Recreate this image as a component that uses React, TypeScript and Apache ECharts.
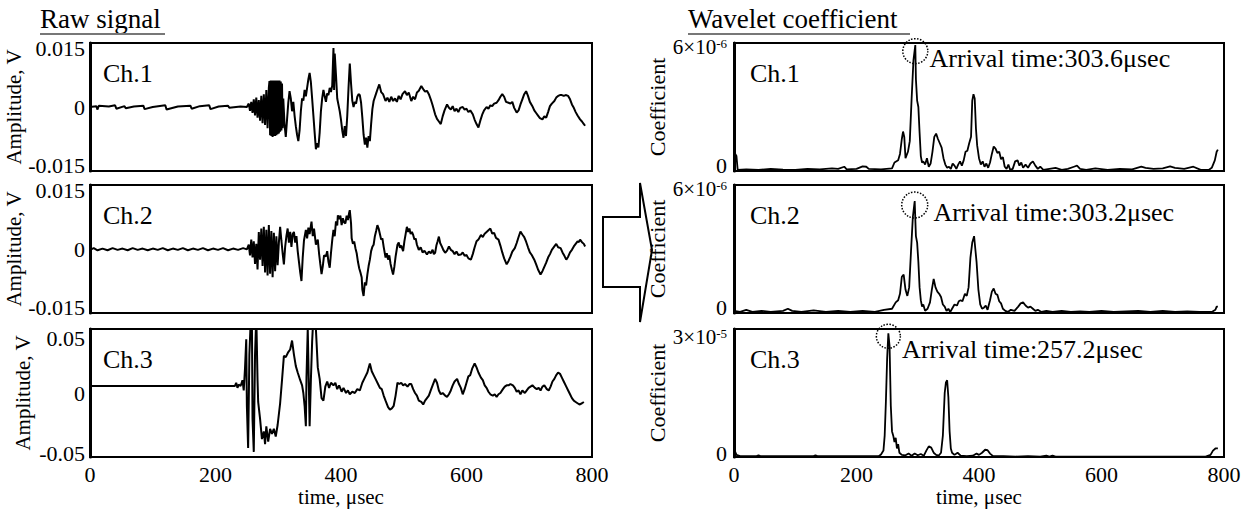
import React, { useEffect, useRef } from 'react';
import * as echarts from 'echarts';

const FONT = "'Liberation Serif', 'Times New Roman', Times, serif";

// ---------- data ----------
const channels = ['Ch.1', 'Ch.2', 'Ch.3'];
const timeMax = 800;
const timeInterval = 200;
const rawRange = [0.015, 0.015, 0.05];
const coefMax = [6, 6, 3];
const coefExp = ['-6', '-6', '-5'];
const arrivalTimes = [303.6, 303.2, 257.2];

// Raw signal, Ch.1 [time µs, amplitude V]
const raw1: [number, number][] = [
  [0,0],[10,0.0002],[12,-0.0006],[14,0.0003],[30,0.0001],[40,0.0004],[42,-0.0004],[55,0.0002],[57,-0.0003],[70,0.0001],
  [85,0.0003],[87,-0.0005],[100,0],[120,0.0004],[122,-0.0006],[140,0.0001],[160,0.0003],[162,-0.0004],[175,0.0002],[190,0.0004],
  [192,-0.0005],[205,0.0001],[220,0.0003],[222,-0.0002],[240,0.0001],[250,0],
  [253,0.0008],[255,-0.0009],[257,0.0012],[259,-0.0014],[261,0.0018],[263,-0.002],[265,0.0022],[267,-0.0025],[269,0.0016],[271,-0.0032],
  [273,0.0026],[275,-0.0038],[277,0.003],[279,-0.0042],[281,0.004],[283,-0.005],[285,0.0045],
  [286,0.0061],[287,-0.0066],[288,0.0062],[289,-0.0068],[290,0.0062],[291,-0.007],[292,0.0062],[293,-0.0068],[294,0.0062],[295,-0.0068],
  [296,0.0062],[297,-0.0066],[298,0.0062],[299,-0.0064],[300,0.0062],[301,-0.0062],[302,0.0062],[303,-0.0058],[304,0.006],[305,-0.0055],
  [306,0.0055],[307,-0.005],[308,0.002],
  [310,-0.004],[312,-0.007],[314,-0.003],[316,0.001],[318,0.0037],[320,0.002],[322,-0.001],[324,0.0012],[326,-0.002],[328,-0.0045],
  [330,-0.0065],[332,-0.008],[334,-0.0055],[336,-0.001],[338,0.002],[340,0.0015],[342,0.004],[344,0.0025],[346,0.0045],[348,0.0065],
  [350,0.008],[352,0.0058],[354,0.002],[356,-0.002],[358,-0.006],[360,-0.0099],[362,-0.0085],[364,-0.0095],[366,-0.006],[368,-0.001],
  [370,0.002],[372,0.004],[374,0.0025],[376,0.0012],[378,0.0032],[380,0.0028],[382,0.0045],[384,0.0035],[386,0.005],[388,0.0138],
  [389,0.004],[390,0.0125],[392,0.0075],[394,0.002],[396,0.0005],[398,-0.001],[400,-0.003],[402,-0.0055],[404,-0.0072],[406,-0.0045],
  [408,-0.0068],[410,-0.002],[412,0.0045],[414,0.0102],[416,0.0055],[418,0.0015],[420,0],[422,0.0012],[424,0.0008],[426,0.0024],
  [428,0.003],[430,0.0028],[432,0.001],[434,-0.0025],[436,-0.0065],[438,-0.0088],[440,-0.0072],[442,-0.0095],[444,-0.0068],[446,-0.008],
  [448,-0.004],[450,-0.0005],
  [452,0.0014],[456,0.0032],[459,0.0045],[461,0.0053],[464,0.0035],[467,0.003],[471,0.0014],[474,0.0022],[477,0.0012],[480,0.0024],
  [483,0.0014],[486,0.002],[489,0.0012],[492,0.0026],[495,0.0018],[498,0.003],[502,0.0037],[505,0.0028],[508,0.0034],[512,0.0014],
  [515,0.0024],[518,0.0018],[521,0.0034],[524,0.0038],[528,0.0049],[531,0.0042],[534,0.0036],[537,0.0038],[540,0.003],[543,0.0018],
  [546,0.0004],[550,-0.0017],[553,-0.0028],[556,-0.0034],[559,-0.004],[562,-0.0022],[565,-0.0008],[569,0.0006],[572,-0.0002],[575,-0.0006],
  [578,0.0002],[581,-0.001],[584,-0.0004],[587,-0.0012],[590,-0.0002],[594,0],[597,-0.0006],[600,-0.0004],[603,-0.0012],[606,-0.0008],
  [610,-0.0017],[613,-0.003],[616,-0.004],[619,-0.0048],[622,-0.0032],[625,-0.0018],[628,-0.0008],[632,0],[635,-0.0004],[638,0.0004],
  [641,0.0002],[644,0.0008],[648,0.001],[651,0.0016],[654,0.0024],[657,0.003],[660,0.0024],[663,0.0012],[667,0.001],[670,0.0008],
  [673,0.0012],[676,-0.0002],[680,-0.0013],[683,-0.0008],[686,0.0006],[689,0.0018],[692,0.003],[695,0.0037],[698,0.0026],[701,0.0012],
  [705,0.0002],[708,-0.0008],[711,-0.0014],[714,-0.002],[717,-0.0026],[721,-0.0029],[724,-0.0022],[727,-0.0025],[730,-0.0012],[733,0.0002],
  [736,0.0008],[740,0.0014],[743,0.0022],[746,0.0026],[749,0.0028],[752,0.0028],[755,0.0026],[758,0.0028],[762,0.0026],[765,0.0018],
  [768,0.0006],[771,-0.0002],[774,-0.0012],[777,-0.002],[781,-0.0029],[784,-0.0034],[787,-0.004],[789,-0.0044]
];

// Raw signal, Ch.2
const raw2: [number, number][] = [
  [0,-0.0002],[6,0.0002],[12,-0.0003],[20,0.0001],[28,-0.0003],[36,0.0002],[44,-0.0002],[52,0.0001],[60,-0.0003],[68,0.0002],
  [76,-0.0002],[84,0.0001],[92,-0.0003],[100,0.0001],[108,-0.0002],[116,0.0002],[124,-0.0003],[132,0.0001],[140,-0.0002],[148,0.0002],
  [156,-0.0003],[164,0.0001],[172,-0.0002],[180,0.0002],[188,-0.0003],[196,0.0001],[204,-0.0002],[212,0.0002],[220,-0.0003],[228,0.0001],
  [236,-0.0002],[244,0.0002],[250,-0.0001],
  [253,0.001],[255,-0.0015],[257,0.0022],[259,-0.002],[261,0.0018],[263,-0.0035],[265,0.0012],[267,-0.0048],[269,0.004],[271,-0.0025],
  [273,0.0048],[275,-0.004],[277,0.0052],[279,-0.0055],[281,0.0045],[283,-0.0062],[285,0.0056],[287,-0.0058],[289,0.0042],[291,-0.0066],
  [293,0.0038],[295,-0.0052],[297,0.003],[299,-0.0038],
  [301,0.0015],[303,0.0052],[305,0.002],[307,-0.001],[309,-0.0036],[311,0.0005],[313,0.003],[315,0.0048],[317,0.0015],[319,0.004],
  [321,0.0005],[323,0.0035],[325,0.004],[327,0.0015],[329,0.003],[331,-0.0005],[333,-0.003],[335,-0.0055],[337,-0.0075],[339,-0.002],
  [341,0.002],[344,0.0045],[346,0.0025],[348,0.005],[350,0.0035],[353,0.0064],[355,0.003],[357,0.0048],[360,0.001],[363,0.0022],
  [365,-0.001],[367,-0.0035],[369,-0.0059],[371,-0.004],[373,-0.0015],[376,-0.0017],[378,-0.0005],[380,-0.003],[382,-0.0044],[384,-0.001],
  [386,0.002],[388,0.0045],[390,0.003],[392,0.0065],[394,0.0055],[395,0.0079],[397,0.007],[399,0.0078],[401,0.0056],[403,0.0072],
  [405,0.0062],[407,0.006],[409,0.0078],[411,0.0068],[413,0.0085],[414,0.0091],[416,0.006],[417,0.0025],[419,0.0012],[421,0.0018],
  [423,0.0002],[425,-0.001],[427,-0.003],[429,-0.0045],[431,-0.0055],[433,-0.0067],[434,-0.0095],[436,-0.011],[438,-0.0078],[440,-0.0085],
  [442,-0.006],[444,-0.004],[446,-0.0025],[448,-0.0005],[450,0.0005],[452,0.001],[454,0.003],[456,0.0042],[458,0.0056],[460,0.0048],
  [462,0.0035],[464,0.0022],[466,0.0025],[468,0.0005],[471,-0.002],[473,-0.001],[475,-0.0025],[477,-0.0015],[479,-0.0035],[481,-0.0048],
  [483,-0.006],[485,-0.0042],[487,-0.0018],[490,0.001],[492,0.0015],[494,0.0003],[496,0.0008],[499,-0.0005],[501,0.0018],[503,0.0035],
  [505,0.0052],[507,0.004],[509,0.0048],[511,0.0035],[513,0.004],[515,0.0033],[517,0.0022],[519,0.0025],[521,0.001],[524,-0.0002],
  [527,0.0004],[530,-0.0008],[533,-0.0004],[537,-0.0013],[540,-0.0006],[543,-0.001],[546,-0.0002],[548,-0.0012],[550,-0.0009],[552,0.0008],
  [554,0.0018],[556,0.0029],[558,0.0014],[561,0.0005],[563,-0.0002],[566,-0.0009],[569,-0.0004],[572,0.0006],[575,-0.0002],[578,-0.0005],
  [581,-0.0012],[584,-0.0006],[587,-0.0014],[591,-0.0013],[594,-0.0008],[597,-0.0016],[600,-0.0014],[603,-0.0022],[607,-0.0025],[610,-0.0012],
  [613,0.0004],[616,0.0018],[619,0.0022],[623,0.0033],[626,0.0028],[629,0.0036],[632,0.004],[635,0.0044],[638,0.0048],[641,0.0036],
  [644,0.0038],[647,0.0026],[651,0.0022],[654,0.0008],[657,-0.0008],[660,-0.0022],[664,-0.0036],[667,-0.0028],[670,-0.0018],[673,-0.0006],
  [677,0.0002],[680,0.0014],[683,0.0028],[686,0.0041],[689,0.0034],[692,0.0028],[695,0.0017],[698,0.0004],[701,-0.0008],[704,-0.0014],
  [708,-0.0025],[711,-0.0036],[714,-0.0048],[718,-0.006],[721,-0.0052],[724,-0.0042],[727,-0.0032],[730,-0.002],[733,-0.0012],[736,-0.0002],
  [740,0.0006],[743,0.0012],[746,0.0004],[750,0.0002],[753,-0.0008],[756,-0.0016],[759,-0.0025],[762,-0.0018],[765,-0.0008],[768,-0.0002],
  [771,0.0006],[774,0.0012],[777,0.0018],[779,0.0016],[781,0.0022],[784,0.0016],[787,0.0012],[789,0.0006]
];

// Raw signal, Ch.3
const raw3: [number, number][] = [
  [0,0.0055],[100,0.0055],[200,0.0055],[231,0.0055],[233,0.008],[235,0.004],[237,0.0065],[240,0.0055],
  [243,0.01],[245,0.002],[247,0.019],[249,0.042],[250,-0.01],[252,-0.043],[254,0.03],[256,0.055],[258,0.058],[259,-0.02],
  [261,-0.046],[263,0.03],[265,0.06],[267,0.01],[268,-0.007],[271,-0.02],[274,-0.036],[277,-0.03],[279,-0.04],[281,-0.026],
  [284,-0.038],[287,-0.028],[290,-0.032],[293,-0.028],[296,-0.034],[299,-0.025],[303,-0.008],[306,0.01],[309,0.029],[312,0.028],
  [316,0.032],[319,0.034],[322,0.041],[325,0.03],[328,0.021],[331,0.016],[335,0.01],[338,0.006],[340,0],[342,-0.01],
  [344,-0.026],[345,0.012],[347,0.05],[349,0],[350,-0.026],[352,0.01],[354,0.04],[356,0.06],[359,0.06],[361,0.04],
  [363,0.02],[366,0.011],[369,-0.004],[372,-0.006],[375,0.005],[378,0.009],[381,0.004],[384,0.008],[388,0.006],[391,0.008],
  [394,0.003],[397,0.006],[401,0.001],[404,0.004],[408,0],[411,0.002],[414,-0.001],[418,0.001],[422,0],[426,0.003],
  [430,0.002],[434,0.008],[438,0.012],[442,0.016],[446,0.023],[449,0.017],[452,0.014],[455,0.011],[459,0.007],[462,0.004],
  [465,0.003],[468,-0.002],[471,-0.006],[475,-0.011],[478,-0.013],[481,-0.012],[484,-0.01],[487,-0.002],[490,0.008],[493,0.007],
  [496,0.008],[499,0.006],[502,0.007],[506,0.005],[509,0.007],[512,0.007],[515,0.003],[518,0],[521,-0.002],[524,-0.006],
  [528,-0.007],[531,-0.009],[534,-0.006],[537,-0.004],[540,-0.002],[543,0.002],[546,0.006],[550,0.011],[553,0.008],[556,0.002],
  [559,-0.001],[562,0],[566,-0.002],[569,-0.003],[572,-0.001],[575,0.002],[578,0.006],[581,0.009],[585,0.011],[588,0.007],
  [591,0.004],[594,-0.001],[597,0.003],[600,0.008],[603,0.013],[606,0.014],[609,0.019],[613,0.023],[616,0.02],[619,0.016],
  [623,0.012],[626,0.01],[629,0.006],[632,0.004],[635,0.001],[638,-0.001],[642,-0.002],[645,-0.001],[648,-0.003],[651,-0.001],
  [654,0],[658,0.003],[661,0.005],[664,0.006],[667,0.006],[670,0.007],[674,0.006],[677,0.004],[680,0.001],[683,0.002],
  [686,-0.001],[689,0.002],[693,0],[696,0.002],[699,0.004],[702,0.005],[705,0.006],[709,0.004],[712,0.003],[715,0.004],
  [718,0.002],[721,0.005],[724,0.006],[728,0.003],[731,0.002],[734,0.005],[737,0.009],[740,0.011],[743,0.014],[746,0.016],
  [749,0.015],[752,0.012],[755,0.009],[759,0.005],[762,0.002],[765,-0.001],[768,-0.004],[771,-0.006],[774,-0.007],[777,-0.008],
  [780,-0.009],[784,-0.008],[787,-0.007]
];

// Wavelet coefficient, Ch.1 (×10^-6)
const coef1: [number, number][] = [
  [0,0.3],[2,0.8],[4,0.7],[6,0.05],[20,0.08],[40,0.05],[60,0.1],[80,0.06],[100,0.05],[120,0.1],[140,0.08],[160,0.12],[170,0.1],
  [180,0.2],[184,0.08],[200,0.1],[210,0.22],[216,0.2],[220,0.1],[240,0.08],[258,0.12],[262,0.4],[268,0.5],[271,0.8],[274,1.5],
  [276,1.85],[278,1.6],[280,0.6],[282,0.75],[284,0.9],[287,1.4],[290,3.4],[293,5.2],[296,5.9],[297,4.3],[299,3.3],[301,3.0],
  [303,1.8],[305,0.7],[307,0.4],[309,0.45],[312,0.3],[315,0.6],[318,0.2],[321,0.35],[324,0.9],[327,1.6],[330,1.75],[333,1.5],
  [336,1.3],[339,1.1],[342,0.6],[345,0.3],[348,0.15],[351,0.2],[354,0.1],[357,0.35],[360,0.25],[363,0.1],[366,0.3],[369,0.45],
  [372,0.25],[375,0.5],[378,0.9],[381,0.95],[384,1.3],[387,1.6],[389,3.3],[391,3.6],[393,3.4],[395,2.0],[397,1.2],[400,0.6],
  [403,0.3],[406,0.45],[409,0.2],[412,0.35],[415,0.15],[418,0.4],[421,0.8],[424,1.15],[427,1.05],[430,0.85],[433,0.9],[436,0.55],
  [439,0.65],[442,0.2],[445,0.1],[448,0.3],[451,0.05],[455,0.1],[459,0.45],[463,0.5],[466,0.25],[469,0.4],[472,0.15],[476,0.3],
  [480,0.15],[484,0.35],[488,0.45],[492,0.25],[496,0.1],[500,0.2],[505,0.05],[515,0.1],[525,0.15],[535,0.05],[545,0.1],[555,0.2],
  [560,0.25],[565,0.1],[575,0.05],[590,0.12],[610,0.05],[630,0.1],[650,0.08],[665,0.2],[672,0.15],[685,0.1],[700,0.12],[712,0.22],
  [720,0.15],[735,0.1],[750,0.2],[762,0.05],[775,0.05],[780,0.15],[785,0.5],[788,0.9],[790,1.0]
];

// Wavelet coefficient, Ch.2 (×10^-6)
const coef2: [number, number][] = [
  [0,0.1],[10,0.05],[20,0.15],[30,0.05],[45,0.1],[60,0.05],[80,0.1],[88,0.2],[95,0.1],[110,0.05],[130,0.12],[150,0.05],[170,0.1],
  [190,0.05],[210,0.1],[230,0.05],[245,0.15],[258,0.2],[264,0.5],[268,0.6],[271,0.9],[274,1.7],[277,1.8],[280,1.1],[283,0.8],
  [286,1.2],[289,2.9],[292,4.5],[295,5.25],[297,3.6],[299,3.3],[301,2.4],[303,1.2],[305,0.6],[307,0.3],[309,0.4],[312,0.1],
  [316,0.2],[320,0.5],[323,1.1],[326,1.6],[329,1.2],[332,1.0],[335,0.9],[338,0.75],[341,0.4],[344,0.3],[347,0.1],[350,0.2],
  [353,0.05],[356,0.2],[360,0.4],[364,0.35],[367,0.55],[370,0.6],[373,0.55],[377,0.9],[380,0.8],[383,1.2],[386,2.6],[389,3.3],
  [392,3.6],[394,3.0],[396,2.4],[399,1.1],[402,0.4],[405,0.2],[408,0.25],[411,0.35],[414,0.15],[418,0.6],[421,1.0],[424,1.15],
  [427,0.9],[430,0.85],[433,0.55],[436,0.45],[439,0.2],[443,0.1],[447,0.05],[452,0.15],[458,0.1],[464,0.3],[468,0.45],[472,0.5],
  [476,0.35],[480,0.25],[484,0.3],[488,0.2],[492,0.1],[496,0.15],[502,0.05],[510,0.1],[520,0.05],[535,0.1],[550,0.05],[565,0.08],
  [580,0.05],[600,0.1],[620,0.05],[640,0.08],[660,0.1],[680,0.05],[700,0.1],[720,0.05],[740,0.08],[760,0.05],[780,0.05],[786,0.15],
  [788,0.3],[790,0.3]
];

// Wavelet coefficient, Ch.3 (×10^-5)
const coef3: [number, number][] = [
  [0,0.05],[2,0.12],[4,0.05],[10,0.02],[37,0.02],[40,0.04],[43,0.02],[100,0.02],[130,0.02],[133,0.04],[136,0.02],[200,0.02],
  [236,0.02],[240,0.06],[244,0.15],[246,0.5],[248,1.3],[250,2.3],[252,2.9],[254,2.6],[256,1.2],[258,0.6],[260,0.5],[262,0.35],
  [264,0.45],[266,0.2],[268,0.3],[270,0.1],[274,0.05],[280,0.04],[285,0.08],[290,0.03],[295,0.08],[300,0.04],[305,0.07],[310,0.03],
  [314,0.15],[318,0.25],[322,0.22],[326,0.1],[330,0.05],[334,0.03],[338,0.1],[341,0.5],[344,1.5],[346,1.75],[348,1.8],[350,1.4],
  [352,0.6],[354,0.2],[356,0.1],[360,0.05],[365,0.1],[370,0.03],[380,0.02],[390,0.03],[396,0.08],[400,0.05],[405,0.1],[410,0.17],
  [414,0.16],[418,0.08],[423,0.02],[440,0.02],[460,0.01],[480,0.02],[500,0.01],[510,0.03],[515,0.01],[520,0.03],[525,0.01],[600,0.01],
  [700,0.01],[770,0.01],[778,0.05],[782,0.15],[786,0.2],[790,0.2]
];

const rawSeries = [raw1, raw2, raw3];
const coefSeries = [coef1, coef2, coef3];

// ---------- layout ----------
const LEFT_X = 90;
const LEFT_W = 502;
const RIGHT_X = 734;
const RIGHT_W = 490;
const TOPS = [43, 185, 329];
const PLOT_H = 128;
const topShift = [5, 5, 9];
const bottomShift = [6, 6, 4];
const circleOffset: [number, number][] = [[0, 6], [0, 4], [0, 3]];
const arrivalOffset: [number, number][] = [[0, 7], [4, 7], [0, 13]];
const circleSize = [25, 26, 24];
const TICK_FS = 22;

const txt = (size: number) => ({ fontFamily: FONT, fontSize: size, color: '#000' });

function peakOf(arr: [number, number][]): [number, number] {
  let best = arr[0];
  for (const p of arr) if (p[1] > best[1]) best = p;
  return best;
}

function buildOption() {
  const grid: any[] = [];
  const xAxis: any[] = [];
  const yAxis: any[] = [];
  const series: any[] = [];

  for (let side = 0; side < 2; side++) {
    for (let i = 0; i < 3; i++) {
      const idx = side * 3 + i;
      const bottom = i === 2;
      grid.push({
        left: side === 0 ? LEFT_X : RIGHT_X,
        top: TOPS[i],
        width: side === 0 ? LEFT_W : RIGHT_W,
        height: PLOT_H,
        show: true,
        borderColor: '#000',
        borderWidth: 2,
        containLabel: false
      });
      xAxis.push({
        gridIndex: idx,
        type: 'value',
        min: 0,
        max: timeMax,
        interval: timeInterval,
        axisTick: { show: false },
        splitLine: { show: false },
        axisLine: { onZero: false, lineStyle: { color: '#000', width: 2 } },
        axisLabel: { show: bottom, margin: 6, ...txt(TICK_FS) },
        name: bottom ? 'time, μsec' : '',
        nameLocation: 'middle',
        nameGap: 29,
        nameTextStyle: txt(21)
      });
      if (side === 0) {
        const r = rawRange[i];
        yAxis.push({
          gridIndex: idx,
          type: 'value',
          min: -r,
          max: r,
          interval: r,
          axisTick: { show: false },
          splitLine: { show: false },
          axisLine: { onZero: false, lineStyle: { color: '#000', width: 3 } },
          axisLabel: {
            margin: 5,
            ...txt(TICK_FS),
            formatter: (v: number) => {
              const s = String(Number(v.toFixed(4)));
              if (v > r / 2) return `{t|${s}}`;
              if (v < -r / 2) return `{b|${s}}`;
              return `{m|${s}}`;
            },
            rich: {
              t: { ...txt(TICK_FS), padding: [topShift[i] * 2, 0, 0, 0] },
              b: { ...txt(TICK_FS), padding: [0, 0, bottomShift[i] * 2, 0] },
              m: { ...txt(TICK_FS) }
            }
          },
          name: 'Amplitude, V',
          nameLocation: 'middle',
          nameRotate: 90,
          nameGap: 57,
          nameTextStyle: txt(21)
        });
        series.push({
          type: 'line',
          xAxisIndex: idx,
          yAxisIndex: idx,
          data: rawSeries[i],
          showSymbol: false,
          symbol: 'none',
          clip: true,
          lineStyle: { color: '#000', width: 2 }
        });
      } else {
        const m = coefMax[i];
        const peak = peakOf(coefSeries[i]);
        yAxis.push({
          gridIndex: idx,
          type: 'value',
          min: 0,
          max: m,
          interval: m,
          axisTick: { show: false },
          splitLine: { show: false },
          axisLine: { onZero: false, lineStyle: { color: '#000', width: 3 } },
          axisLabel: {
            margin: 7,
            ...txt(TICK_FS),
            formatter: (v: number) => (v > m / 2 ? `{n|${m}×10}{s|${coefExp[i]}}` : '{z|0}'),
            rich: {
              n: { ...txt(21), padding: [topShift[i] * 2 - 2, 0, 0, 0] },
              s: { ...txt(13), verticalAlign: 'top', padding: [topShift[i] * 2 - 2, 0, 0, 0] },
              z: { ...txt(TICK_FS), padding: [0, 0, bottomShift[i] * 2, 0] }
            }
          },
          name: 'Coefficient',
          nameLocation: 'middle',
          nameRotate: 90,
          nameGap: 50,
          nameTextStyle: txt(22)
        });
        series.push({
          type: 'line',
          xAxisIndex: idx,
          yAxisIndex: idx,
          data: coefSeries[i],
          showSymbol: false,
          symbol: 'none',
          clip: true,
          lineStyle: { color: '#000', width: 1.8 },
          markPoint: {
            symbol: 'circle',
            symbolSize: circleSize[i],
            symbolOffset: circleOffset[i],
            silent: true,
            itemStyle: {
              color: 'rgba(0,0,0,0)',
              borderColor: '#000',
              borderWidth: 1.5,
              borderType: 'dotted'
            },
            label: {
              show: true,
              position: 'right',
              distance: 1,
              offset: arrivalOffset[i],
              formatter: `Arrival time:${arrivalTimes[i].toFixed(1)}μsec`,
              ...txt(26)
            },
            data: [{ coord: peak }]
          }
        });
      }
    }
  }

  const graphic: any[] = [];
  // titles with underline
  graphic.push({ type: 'text', x: 40, y: 19, style: { text: 'Raw signal', fontFamily: FONT, fontSize: 27, fill: '#000', align: 'left', verticalAlign: 'middle' } });
  graphic.push({ type: 'line', shape: { x1: 40, y1: 34, x2: 165, y2: 34 }, style: { stroke: '#777', lineWidth: 2 } });
  graphic.push({ type: 'text', x: 688, y: 19, style: { text: 'Wavelet coefficient', fontFamily: FONT, fontSize: 27, fill: '#000', align: 'left', verticalAlign: 'middle' } });
  graphic.push({ type: 'line', shape: { x1: 688, y1: 34, x2: 910, y2: 34 }, style: { stroke: '#777', lineWidth: 2 } });
  // channel labels
  for (let i = 0; i < 3; i++) {
    graphic.push({ type: 'text', x: LEFT_X + 13, y: TOPS[i] + 30, style: { text: channels[i], fontFamily: FONT, fontSize: 26, fill: '#000', align: 'left', verticalAlign: 'middle' } });
    graphic.push({ type: 'text', x: RIGHT_X + 16, y: TOPS[i] + 30, style: { text: channels[i], fontFamily: FONT, fontSize: 26, fill: '#000', align: 'left', verticalAlign: 'middle' } });
  }
  // arrow
  graphic.push({
    type: 'polygon',
    shape: { points: [[603, 217], [640, 217], [640, 183], [652, 250], [640, 322], [640, 287], [603, 287]] },
    style: { fill: '#fff', stroke: '#000', lineWidth: 2 }
  });

  return {
    animation: false,
    backgroundColor: '#fff',
    textStyle: { fontFamily: FONT, color: '#000' },
    grid,
    xAxis,
    yAxis,
    series,
    graphic
  };
}

export default function App() {
  const ref = useRef<HTMLDivElement>(null);
  useEffect(() => {
    if (!ref.current) return;
    const chart = echarts.init(ref.current, undefined, { renderer: 'svg' });
    chart.setOption(buildOption() as any);
    return () => chart.dispose();
  }, []);
  return (
    <div
      ref={ref}
      style={{ position: 'fixed', left: 0, top: 0, width: 1256, height: 510, background: '#fff' }}
    />
  );
}
